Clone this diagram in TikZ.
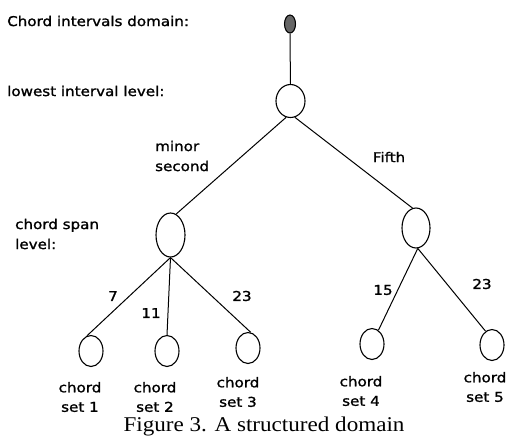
\documentclass[tikz,border=0pt]{standalone}
\usepackage{fontspec}
\usetikzlibrary{shapes.geometric}
\newfontfamily\labfont[FakeStretch=1.12,FakeBold=1.3]{DejaVu Sans}
\newfontfamily\capfont[FakeStretch=1.1]{Liberation Serif}
\begin{document}
\begin{tikzpicture}[x=1pt,y=-1pt,
  lab/.style={font=\labfont\fontsize{13.5}{20}\selectfont, inner sep=0pt, align=left},
  setlab/.style={font=\labfont\fontsize{13.5}{19.5}\selectfont, inner sep=0pt, align=center},
  nd/.style={ellipse, draw, line width=1.1pt, inner sep=0pt},
  leaf/.style={nd, minimum width=24, minimum height=31},
  edge/.style={line width=1pt}]
\useasboundingbox (0,0) rectangle (516,440);
% nodes
\node[nd, fill=gray!80!black, minimum width=11, minimum height=18] (root) at (290,24) {};
\node[nd, minimum width=29, minimum height=33] (top) at (290.5,101) {};
\node[nd, minimum width=29, minimum height=44] (lm) at (170.5,235) {};
\node[nd, minimum width=28, minimum height=40] (rm) at (416,228) {};
\node[leaf] (s1) at (91,351) {};
\node[leaf] (s2) at (167,351) {};
\node[leaf] (s3) at (248,348) {};
\node[leaf] (s4) at (372,344) {};
\node[leaf] (s5) at (492,345) {};
% connectors
\draw[edge] (root) -- (top);
\draw[edge] (top.255) -- (lm.75);
\draw[edge] (top.285) -- (rm.100);
\draw[edge] (lm.south) -- (s1.105);
\draw[edge] (lm.south) -- (s2.north);
\draw[edge] (lm.south) -- (s3.80);
\draw[edge] (rm.275) -- (s4.65);
\draw[edge] (rm.275) -- (s5.115);
% edge labels
\node[lab] (l7) at (113,296) {7};
\node[lab] (l11) at (151,313) {11};
\node[lab] (l23a) at (242,296) {23};
\node[lab] (l15) at (383,290) {15};
\node[lab] (l23b) at (482,284) {23};
\node[lab, anchor=west] (lminor) at (155,156) {minor\\second};
\node[lab] (lfifth) at (389,157) {Fifth};
% level labels
\node[lab, anchor=west] (ldom) at (7,21) {Chord intervals domain:};
\node[lab, anchor=west] (llow) at (7,91) {lowest interval level:};
\node[lab, anchor=west] (lspan) at (15,234) {chord span\\level:};
% leaf labels
\node[setlab] (t1) at (80,397) {chord\\set 1};
\node[setlab] (t2) at (155,397) {chord\\set 2};
\node[setlab] (t3) at (238,392) {chord\\set 3};
\node[setlab] (t4) at (361,391) {chord\\set 4};
\node[setlab] (t5) at (485,387) {chord\\set 5};
% caption
\node[font=\capfont\fontsize{21}{24}\selectfont, inner sep=0pt] (cap) at (264,426) {Figure 3. A structured domain};
\end{tikzpicture}
\end{document}
